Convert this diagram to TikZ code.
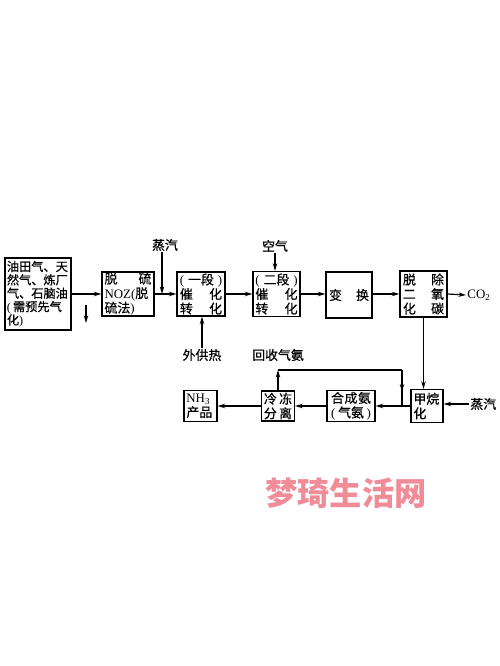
\documentclass[tikz,border=0pt]{standalone}
\usepackage{fontspec}
\setmainfont{Liberation Serif}
\newfontfamily\cjk[FakeBold=0.6]{Noto Sans CJK SC}
\newfontfamily\markfont{Noto Sans CJK SC}
\usetikzlibrary{arrows.meta,decorations.markings}
\definecolor{markpink}{RGB}{240,140,152}
\tikzset{
  flow/.style={line width=1pt, -{Stealth[length=6.5pt,width=3.8pt]}},
  link/.style={line width=1pt},
  midflow/.style={postaction={decorate}, decoration={markings,
      mark=at position #1 with {\arrow{Stealth[length=6.5pt,width=3.8pt]}}}},
  unit/.style={draw, line width=1pt, inner sep=0pt, align=left,
      font=\cjk\fontsize{11}{12.4}\selectfont},
  tag/.style={inner sep=1pt, font=\cjk\fontsize{11}{12.4}\selectfont}
}
\begin{document}
\begin{tikzpicture}[x=0.03cm, y=-0.03cm]
\path (0,0) rectangle (500,666);
% upper row
\node[unit, minimum width=56.3pt, minimum height=61.5pt, text width=53pt,
      font=\cjk\fontsize{10.4}{11.4}\selectfont] (feed) at (38,294)
  {油田气、天\\然气、炼厂\\气、石脑油\\{\rmfamily(\,}需预先气\\化{\rmfamily)}};
\node[unit, minimum width=44.4pt, minimum height=37.6pt, text width=40pt] (desulf) at (128,294)
  {脱\hfill 硫\\{\rmfamily NOZ(}脱\\硫法{\rmfamily)}};
\node[unit, minimum width=41pt, minimum height=37.6pt, text width=36pt] (stage1) at (201,294)
  {{\rmfamily(}\hfill 一段\hfill{\rmfamily)}\\催\hfill 化\\转\hfill 化};
\node[unit, minimum width=40.1pt, minimum height=38.4pt, text width=36pt] (stage2) at (276.5,294)
  {{\rmfamily(}\hfill 二段\hfill{\rmfamily)}\\催\hfill 化\\转\hfill 化};
\node[unit, minimum width=39.3pt, minimum height=39.3pt, text width=34pt] (shift) at (349,295)
  {变\hfill 换};
\node[unit, minimum width=40.1pt, minimum height=39.3pt, text width=35pt] (decarb) at (423.5,294)
  {脱\hfill 除\\二\hfill 氧\\化\hfill 碳};
% lower row
\node[unit, minimum width=27.3pt, minimum height=28.2pt, text width=23pt] (methan) at (427,406)
  {甲烷\\化};
\node[unit, minimum width=41pt, minimum height=26.5pt, text width=34pt] (synth) at (351,406)
  {合\hfill 成\hfill 氨\\{\rmfamily(}\hfill 气氨\hfill{\rmfamily)}};
\node[unit, minimum width=28.2pt, minimum height=25.6pt, text width=24pt] (cold) at (278,406)
  {冷\hfill 冻\\分\hfill 离};
\node[unit, minimum width=28.2pt, minimum height=26.5pt, text width=24pt] (nh3) at (200.5,406)
  {{\rmfamily NH\textsubscript{3}}\\产品};
% labels
\node[tag] (steamA) at (165,245) {蒸汽};
\node[tag] (air) at (275,246) {空气};
\node[tag] (heat) at (202,355) {外供热};
\node[tag] (recyc) at (278,355) {回收气氨};
\node[tag, anchor=west] (steamB) at (469,404) {蒸汽};
\node[tag, anchor=west, font=\rmfamily\fontsize{11}{12}\selectfont] (co2) at (466,295) {CO\textsubscript{2}};
\coordinate (j1) at (162,294);
\coordinate (d1) at (86,305);
\coordinate (d2) at (86,323);
\coordinate (r1) at (278,370);
\coordinate (r2) at (402,370);
\coordinate (r3) at (402,406);
% connectors
\draw[flow] (feed.east) -- (desulf.west);
\draw[flow] (d1) -- (d2);
\draw[flow] (desulf.east) -- (stage1.west);
\draw[flow] (steamA.south -| j1) -- (j1);
\draw[flow] (stage1.east) -- (stage2.west);
\draw[flow] (air.south) -- (air.south |- stage2.north);
\draw[flow] (heat.north) -- (heat.north |- stage1.south);
\draw[flow] (stage2.east) -- (shift.west |- stage2.east);
\draw[flow] (shift.east |- decarb.west) -- (decarb.west);
\draw[flow] (decarb.east) -- (co2.west);
\draw[flow] (decarb.south) -- (decarb.south |- methan.north);
\draw[flow] (steamB.west) -- (steamB.west -| methan.east);
\draw[flow] (methan.west) -- (synth.east);
\draw[flow] (synth.west) -- (cold.east);
\draw[flow] (cold.west) -- (nh3.east);
\draw[flow] (cold.north) -- (r1);
\draw[link] (r1) -- (r2);
\draw[link, midflow=0.6] (r2) -- (r3);
% watermark
\node[inner sep=0pt, text=markpink, font=\markfont\bfseries\fontsize{27.5}{30}\selectfont] (mark) at (346,493)
  {梦琦生活网};
\end{tikzpicture}
\end{document}
